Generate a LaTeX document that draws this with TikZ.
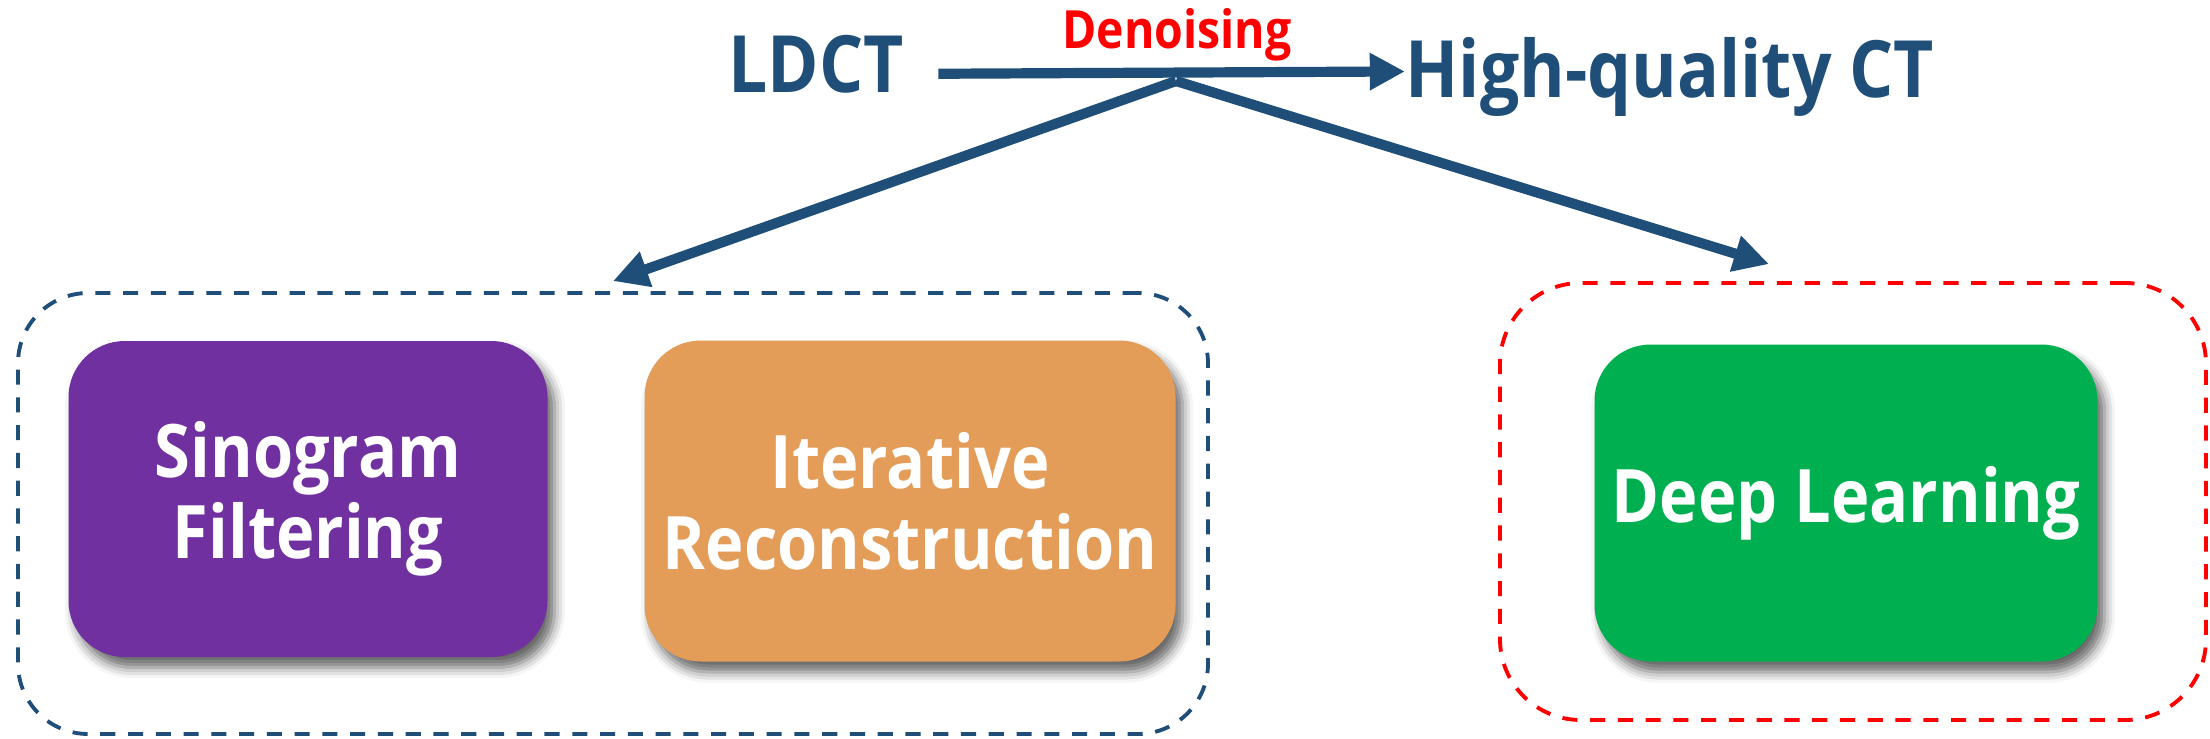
\documentclass[tikz,border=0pt]{standalone}
\usepackage{fontspec}
\setmainfont{Open Sans}[FakeStretch=0.88]
\usetikzlibrary{arrows.meta, shadows.blur}
\definecolor{navy}{RGB}{31,78,121}
\definecolor{plum}{RGB}{112,48,160}
\definecolor{sand}{RGB}{227,157,88}
\definecolor{leaf}{RGB}{0,176,80}

\begin{document}
\begin{tikzpicture}[
  method/.style={rectangle, rounded corners=16pt, text=white, align=center,
    font=\bfseries\fontsize{21}{23}\selectfont,
    blur shadow={shadow xshift=2pt, shadow yshift=-3pt, shadow blur radius=3pt, shadow opacity=60}},
  group/.style={rectangle, rounded corners=20pt, line width=1.1pt, dash pattern=on 4.3pt off 3.6pt},
  title/.style={inner sep=0pt, text=navy, font=\bfseries\fontsize{22.5}{26}\selectfont, anchor=base},
  branch/.style={draw=navy, line width=2.9pt, -{Triangle[length=10pt, width=10pt]}}
]
\useasboundingbox (0,0) rectangle (22.1,7.38);

% the two families of methods
\node[group, draw=navy, minimum width=11.9cm, minimum height=4.41cm] (classic) at (6.13,2.245) {};
\node[group, draw=red, minimum width=7.06cm, minimum height=4.37cm, rounded corners=23pt] (learn) at (18.53,2.365) {};

\node[method, fill=plum, minimum width=4.79cm, minimum height=3.16cm] (sino) at (3.08,2.39) {Sinogram\\Filtering};
\node[method, fill=sand, minimum width=5.31cm, minimum height=3.21cm] (iter) at (9.10,2.37) {Iterative\\Reconstruction};
\node[method, fill=leaf, minimum width=5.03cm, minimum height=3.17cm] (deep) at (18.46,2.35) {\raisebox{-0.09cm}{Deep Learning}};

% top line
\node[title] (ldct) at (8.16,6.46) {LDCT};
\node[title] (hq) at (16.70,6.41) {High-quality CT};
\node[title, text=red, font=\bfseries\fontsize{15}{18}\selectfont] (denoise) at (11.77,6.90) {Denoising};

\draw[branch] ([shift={(0.34,-0.1)}]ldct.east) -- ([yshift=0.05cm]hq.west);
\coordinate (split) at (11.76,6.57);
\draw[branch] (split) -- ([yshift=0.1cm]classic.north);
\draw[branch] (split) -- ([shift={(-0.84,0.17)}]learn.north);
\end{tikzpicture}
\end{document}
